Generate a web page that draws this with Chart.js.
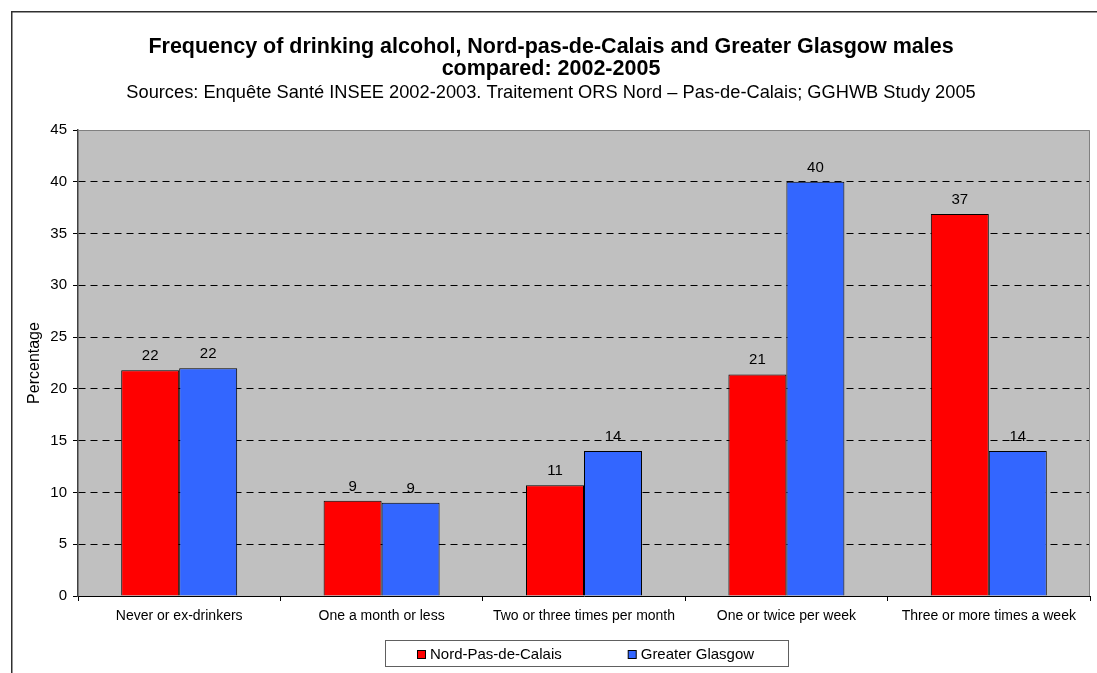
<!DOCTYPE html>
<html>
<head>
<meta charset="utf-8">
<title>Frequency of drinking alcohol, Nord-pas-de-Calais and Greater Glasgow males compared: 2002-2005</title>
<script src="https://cdn.jsdelivr.net/npm/chart.js@4/dist/chart.umd.min.js"></script>
<style>
  html, body { margin: 0; padding: 0; background: #ffffff; }
  #wrap { width: 1097px; height: 673px; position: relative; }
</style>
</head>
<body>
<div id="wrap"><canvas id="chart" width="1097" height="673"></canvas></div>
<script>
// Drinking frequency categories (x axis)
const categories = [
  'Never or ex-drinkers',
  'One a month or less',
  'Two or three times per month',
  'One or twice per week',
  'Three or more times a week'
];

// Percentage of males in each frequency band
const nordPasDeCalais = [21.8, 9.2, 10.7, 21.4, 36.9];
const greaterGlasgow  = [22.0, 9.0, 14.0, 40.0, 14.0];

// Series names
const seriesNames = ['Nord-Pas-de-Calais', 'Greater Glasgow'];

// Y axis range
const yMin = 0, yMax = 45, yStep = 5;

const titleLines = [
  'Frequency of drinking alcohol, Nord-pas-de-Calais and Greater Glasgow males',
  'compared: 2002-2005'
];
const subtitleText = 'Sources: Enquête Santé INSEE 2002-2003. Traitement ORS Nord \u2013 Pas-de-Calais; GGHWB Study 2005';

const FONT = '"Liberation Sans", Arial, Helvetica, sans-serif';
const RED = '#FF0000';
const BLUE = '#3366FF';

// Grey plot background plus the thin grey frame round the plot
const plotBackground = {
  id: 'plotBackground',
  beforeDraw(chart) {
    const { ctx, chartArea: a } = chart;
    ctx.save();
    ctx.fillStyle = '#C0C0C0';
    ctx.fillRect(a.left, a.top, a.right - a.left, a.bottom - a.top);
    ctx.restore();
  },
  beforeDatasetsDraw(chart) {
    const { ctx, chartArea: a } = chart;
    ctx.save();
    ctx.strokeStyle = '#808080';
    ctx.lineWidth = 1;
    ctx.beginPath();
    ctx.moveTo(Math.round(a.left) + 0.5, Math.round(a.top) + 0.5);
    ctx.lineTo(Math.round(a.right) - 0.5, Math.round(a.top) + 0.5);
    ctx.lineTo(Math.round(a.right) - 0.5, Math.round(a.bottom));
    ctx.stroke();
    ctx.restore();
  }
};

// Outer frame of the chart object (top and left edges)
const outerFrame = {
  id: 'outerFrame',
  afterDraw(chart) {
    const { ctx, width, height } = chart;
    ctx.save();
    ctx.strokeStyle = '#303030';
    ctx.lineWidth = 1.5;
    ctx.beginPath();
    ctx.moveTo(11.75, height + 2);
    ctx.lineTo(11.75, 11.75);
    ctx.lineTo(width + 2, 11.75);
    ctx.stroke();
    ctx.restore();
  }
};

// Rounded value printed above each bar
const valueLabels = {
  id: 'valueLabels',
  afterDatasetsDraw(chart) {
    const { ctx } = chart;
    ctx.save();
    ctx.font = '15px ' + FONT;
    ctx.fillStyle = '#000000';
    ctx.textAlign = 'center';
    ctx.textBaseline = 'alphabetic';
    chart.data.datasets.forEach((ds, di) => {
      const meta = chart.getDatasetMeta(di);
      meta.data.forEach((bar, i) => {
        ctx.fillText(String(Math.round(ds.data[i])), bar.x, bar.y - 10);
      });
    });
    ctx.restore();
  }
};

// Boxed legend under the category labels
const boxedLegend = {
  id: 'boxedLegend',
  afterDraw(chart) {
    const { ctx, chartArea: a } = chart;
    ctx.save();
    ctx.font = '15px ' + FONT;
    const sq = 8, gapText = 5, gapItems = 66;
    const items = chart.data.datasets.map(ds => ({
      label: ds.label, color: ds.backgroundColor, w: ctx.measureText(ds.label).width
    }));
    let content = 0;
    items.forEach((it, i) => { content += sq + gapText + it.w + (i < items.length - 1 ? gapItems : 0); });
    const boxW = 403, boxH = 26;
    const cx = (a.left + a.right) / 2 + 2;
    const boxL = Math.round(cx - boxW / 2) + 0.5;
    const boxT = Math.round(a.bottom) + 44.5;
    ctx.fillStyle = '#FFFFFF';
    ctx.fillRect(boxL, boxT, boxW, boxH);
    ctx.strokeStyle = '#606060';
    ctx.lineWidth = 1;
    ctx.strokeRect(boxL, boxT, boxW, boxH);
    let x = Math.round(cx - content / 2);
    const midY = boxT + boxH / 2;
    items.forEach(it => {
      ctx.fillStyle = it.color;
      ctx.fillRect(x + 0.5, Math.round(midY - sq / 2) + 0.5, sq, sq);
      ctx.strokeStyle = '#000000';
      ctx.strokeRect(x + 0.5, Math.round(midY - sq / 2) + 0.5, sq, sq);
      ctx.fillStyle = '#000000';
      ctx.textAlign = 'left';
      ctx.textBaseline = 'middle';
      ctx.fillText(it.label, x + sq + gapText, midY + 1);
      x += sq + gapText + it.w + gapItems;
    });
    ctx.restore();
  }
};

const gridColor = (c) => {
  const v = c.tick ? c.tick.value : null;
  return (v === yMin || v === yMax) ? 'rgba(0,0,0,0)' : '#000000';
};

new Chart(document.getElementById('chart'), {
  type: 'bar',
  data: {
    labels: categories,
    datasets: [
      {
        label: seriesNames[0],
        data: nordPasDeCalais,
        backgroundColor: RED,
        borderColor: '#000000',
        borderWidth: 1,
        categoryPercentage: 0.573,
        barPercentage: 1.0
      },
      {
        label: seriesNames[1],
        data: greaterGlasgow,
        backgroundColor: BLUE,
        borderColor: '#000000',
        borderWidth: 1,
        categoryPercentage: 0.573,
        barPercentage: 1.0
      }
    ]
  },
  options: {
    responsive: false,
    devicePixelRatio: 1,
    animation: false,
    layout: { padding: { left: 12, right: 7, top: 0, bottom: 42 } },
    plugins: {
      legend: { display: false },
      tooltip: { enabled: false },
      title: {
        display: true,
        text: titleLines,
        color: '#000000',
        font: { family: FONT, size: 21.5, weight: 'bold', lineHeight: 1.0 },
        padding: { top: 36.5, bottom: 4.2 }
      },
      subtitle: {
        display: true,
        text: subtitleText,
        color: '#000000',
        font: { family: FONT, size: 18.25, weight: 'normal', lineHeight: 1.0 },
        padding: { top: 0, bottom: 28.05 }
      }
    },
    scales: {
      x: {
        offset: true,
        afterFit(scale) { scale.height = 35; },
        grid: {
          display: true,
          offset: true,
          drawOnChartArea: false,
          drawTicks: true,
          tickLength: 5,
          tickColor: '#000000',
          tickWidth: 1
        },
        border: { display: true, color: '#000000', width: 1 },
        ticks: {
          color: '#000000',
          font: { family: FONT, size: 14 },
          padding: 7,
          maxRotation: 0,
          autoSkip: false
        }
      },
      y: {
        min: yMin,
        max: yMax,
        afterFit(scale) { scale.width = 66; },
        grid: {
          color: gridColor,
          lineWidth: 1,
          drawTicks: true,
          tickLength: 5,
          tickColor: '#000000',
          tickWidth: 1
        },
        border: { display: true, color: '#404040', width: 1.5, dash: [7, 5] },
        ticks: {
          stepSize: yStep,
          color: '#000000',
          font: { family: FONT, size: 15 },
          padding: 6
        },
        title: {
          display: true,
          text: 'Percentage',
          color: '#000000',
          font: { family: FONT, size: 16 },
          padding: { top: 13, bottom: 0 }
        }
      }
    }
  },
  plugins: [plotBackground, valueLabels, boxedLegend, outerFrame]
});
</script>
</body>
</html>
